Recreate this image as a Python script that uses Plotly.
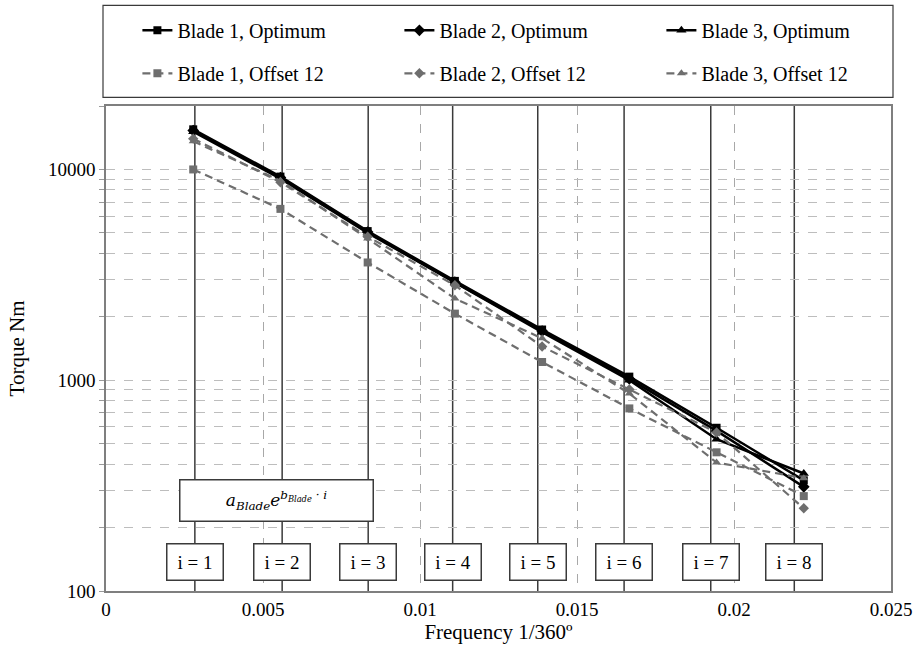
import plotly.graph_objects as go
import numpy as np

# ---- data ----
order_i = [1, 2, 3, 4, 5, 6, 7, 8]
frequency = [i / 360 for i in order_i]

blade1_opt = [15500, 9250, 5100, 2960, 1740, 1040, 595, 335]
blade2_opt = [15300, 9150, 5050, 2920, 1710, 1015, 575, 312]
blade3_opt = [15100, 9050, 5000, 2900, 1690, 1000, 525, 361]

blade1_off = [10000, 6500, 3620, 2070, 1220, 735, 455, 282]
blade2_off = [14000, 8700, 4800, 2820, 1445, 905, 565, 247]
blade3_off = [13600, 8850, 4700, 2440, 1580, 865, 407, 343]

line_labels = ["i = 1", "i = 2", "i = 3", "i = 4", "i = 5", "i = 6", "i = 7", "i = 8"]
line_x = [0.00283, 0.00561, 0.00835, 0.01104, 0.01375, 0.01650, 0.01926, 0.02192]

x_tick_vals = [0, 0.005, 0.01, 0.015, 0.02, 0.025]
x_tick_text = ["0", "0.005", "0.01", "0.015", "0.02", "0.025"]
y_grid_vals = [v * m for m in (100, 1000) for v in range(1, 10)] + [10000, 20000]
y_tick_text = [str(v) if v in (100, 1000, 10000) else "" for v in y_grid_vals]

FONT = "Liberation Serif"
BLACK = "#000000"
GRAY = "#6e6e6e"

fig = go.Figure()

series = [
    ("Blade 1, Optimum", blade1_opt, "square", BLACK, "solid", "legend", 8),
    ("Blade 2, Optimum", blade2_opt, "diamond", BLACK, "solid", "legend", 9),
    ("Blade 3, Optimum", blade3_opt, "triangle-up", BLACK, "solid", "legend", 9),
    ("Blade 1, Offset 12", blade1_off, "square", GRAY, "8px,5px", "legend2", 8),
    ("Blade 2, Offset 12", blade2_off, "diamond", GRAY, "8px,5px", "legend2", 8),
    ("Blade 3, Offset 12", blade3_off, "triangle-up", GRAY, "8px,5px", "legend2", 8),
]
for name, vals, sym, col, dash, leg, ms in series:
    fig.add_trace(go.Scatter(
        x=frequency, y=vals, name=name, mode="lines+markers",
        line=dict(color=col, width=2.5 if dash == "solid" else 2.2, dash=dash),
        marker=dict(symbol=sym, size=ms, color=col),
        legend=leg,
    ))

# vertical order lines
for xv in line_x:
    fig.add_shape(type="line", xref="x", yref="paper", x0=xv, x1=xv, y0=0, y1=1,
                  line=dict(color="#3a3a3a", width=1.5), layer="between")

# order labels
for xv, lab in zip(line_x, line_labels):
    fig.add_annotation(x=xv, xref="x", y=(591 - 562) / 485.3, yref="paper", text=lab,
                       xanchor="center", yanchor="middle",
                       showarrow=False, bgcolor="white", bordercolor="#3a3a3a",
                       borderwidth=1.5, borderpad=1, width=53, height=33,
                       font=dict(family=FONT, size=19, color="black"))

# formula box
fig.add_annotation(x=(276.5 - 106) / 785, xref="paper", y=(591 - 500) / 485.3, yref="paper",
                   xanchor="center", yanchor="middle",
                   text="<i>a</i><sub><i>Blade</i></sub><i>e</i><sup><i>b</i><sub><i>Blade</i></sub><i> · i</i></sup>",
                   showarrow=False, bgcolor="white", bordercolor="#3a3a3a",
                   borderwidth=1.5, borderpad=1, width=190, height=38,
                   font=dict(family="DejaVu Serif", size=17, color="black"))

# legend frame
fig.add_shape(type="rect", xref="paper", yref="paper",
              x0=(103 - 106) / 785, x1=(893 - 106) / 785,
              y0=(591 - 97) / 485.3, y1=(591 - 5) / 485.3,
              line=dict(color="#3a3a3a", width=1.2), fillcolor="rgba(0,0,0,0)", layer="above")

leg_common = dict(orientation="h", xref="paper", yref="paper", xanchor="left", yanchor="middle",
                  entrywidth=217, entrywidthmode="pixels", bgcolor="rgba(0,0,0,0)",
                  borderwidth=0, font=dict(family=FONT, size=20, color="black"))

fig.update_layout(
    width=915, height=657,
    margin=dict(l=106, r=24, t=106, b=66, autoexpand=False),
    paper_bgcolor="white", plot_bgcolor="white",
    font=dict(family=FONT, size=19, color="black"),
    legend=dict(x=0.04, y=(591 - 30) / 485.3, **leg_common),
    legend2=dict(x=0.04, y=(591 - 73) / 485.3, **leg_common),
    xaxis=dict(range=[0, 0.025], tickvals=x_tick_vals, ticktext=x_tick_text,
               showgrid=True, gridcolor="#a8a8a8", griddash="dash", gridwidth=1,
               showline=True, linecolor="#7f7f7f", linewidth=1.5, mirror=True,
               ticks="", zeroline=False,
               tickfont=dict(family=FONT, size=19),
               title=dict(text="Frequency 1/360º", font=dict(family=FONT, size=21), standoff=6)),
    yaxis=dict(type="log", range=[2, np.log10(20000)], tickvals=y_grid_vals, ticktext=y_tick_text,
               showgrid=True, gridcolor="#bdbdbd", griddash="dash", gridwidth=1,
               showline=True, linecolor="#7f7f7f", linewidth=1.5, mirror=True,
               ticks="outside", ticklen=5, tickcolor="#9a9a9a", zeroline=False,
               tickfont=dict(family=FONT, size=19),
               title=dict(text="Torque Nm", font=dict(family=FONT, size=21), standoff=18)),
)

fig.write_html("out.html")
